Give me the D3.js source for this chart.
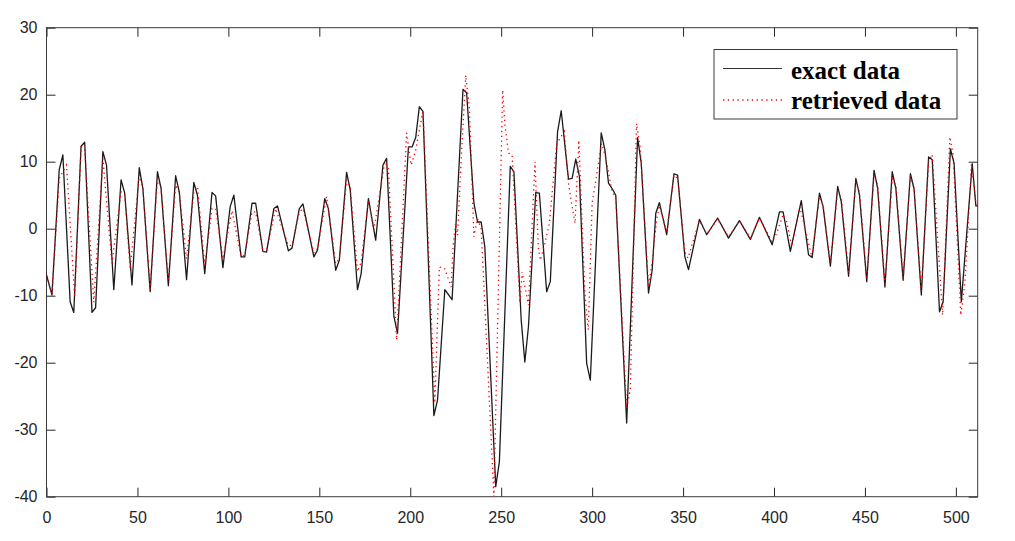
<!DOCTYPE html>
<meta charset="utf-8">
<style>
  body { margin: 0; background: #fff; }
  .tick text { font-family: "Liberation Sans", Arial, sans-serif; font-size: 16px; fill: #262626; }
  .tick line { stroke: #262626; }
</style>

<div id="chart"></div>

<!-- Load d3.js -->
<script src="https://d3js.org/d3.v7.min.js"></script>

<script>
  // exact data, vertices
  var exactX = [0, 3, 7, 9, 13, 15, 19, 21, 25, 27, 31, 33, 37, 41, 43, 47, 51, 53, 57, 61, 63, 67, 71, 73, 77, 81, 83, 87,
    91, 93, 97, 101, 103, 107, 109, 113, 115, 119, 121, 125, 127, 133, 135, 139, 141, 147, 149, 153, 155, 159, 161, 165, 167,
    171, 173, 177, 181, 185, 187, 191, 193, 199, 201, 203, 205, 207, 213, 215, 219, 223, 229, 231, 235, 237, 239, 241, 247, 249,
    255, 257, 261, 263, 265, 269, 271, 275, 277, 281, 283, 287, 289, 291, 293, 297, 299, 305, 307, 309, 311, 313, 319, 325, 327,
    331, 333, 335, 337, 341, 345, 347, 351, 353, 359, 363, 369, 375, 381, 387, 392, 399, 403, 405, 409, 415, 419, 421, 425, 427,
    431, 435, 437, 441, 445, 447, 451, 455, 457, 461, 465, 467, 471, 475, 477, 481, 485, 487, 491, 493, 497, 499, 503, 509, 511, 512];
  var exactY = [-6.9, -9.9, 8.8, 11.0, -10.9, -12.5, 12.3, 12.9, -12.5, -11.8, 11.5, 9.5, -9.1, 7.3, 5.3, -8.4, 9.1, 6.0, -9.4, 8.5, 6.0, -8.5, 7.9, 5.5, -7.6, 6.9, 5.0, -6.7,
    5.4, 4.9, -5.8, 3.3, 5.0, -4.2, -4.2, 3.8, 3.8, -3.4, -3.5, 3.0, 3.4, -3.3, -2.9, 3.0, 3.7, -4.2, -3.2, 4.5, 3.0, -6.2, -4.7, 8.4, 5.8,
    -9.1, -6.7, 4.5, -1.7, 9.5, 10.5, -13.1, -15.6, 12.2, 12.2, 13.6, 18.2, 17.5, -27.9, -25.6, -9.1, -10.6, 20.8, 20.3, 3.8, 1.0, 1.0, -2.7, -38.5, -34.8,
    9.3, 8.5, -13.6, -19.9, -14.6, 5.4, 5.3, -9.4, -7.9, 14.5, 17.6, 7.4, 7.5, 10.4, 7.8, -20.1, -22.6, 14.3, 11.8, 6.8, 6.0, 5.0, -29.0, 13.6, 9.8,
    -9.6, -6.2, 2.3, 3.9, -0.9, 8.2, 8.0, -4.2, -6.1, 1.4, -0.9, 1.6, -1.4, 1.2, -1.6, 1.7, -2.4, 2.5, 2.5, -3.4, 4.2, -3.9, -4.3, 5.3, 3.3,
    -5.6, 6.3, 4.0, -7.1, 7.5, 5.0, -7.9, 8.7, 6.0, -8.7, 8.5, 6.0, -7.7, 8.2, 6.0, -9.9, 10.7, 10.3, -12.4, -10.9, 11.9, 9.8, -10.9, 9.7, 3.4, 3.4];

  // retrieved data
  var retrX = [0, 3, 7, 11, 15.5, 19, 21, 26, 31, 36, 41, 43, 46, 51, 53, 57, 61, 63, 67, 71, 73, 77, 81, 83, 87,
    91, 93, 97, 102, 107, 109, 113, 115, 119, 121, 126, 133, 135, 139, 141, 147, 149, 154, 159, 161, 165, 167,
    171, 173, 177, 180, 183, 186, 188, 192.5, 198, 200.5, 203, 207, 213.5, 216, 219, 222.5, 223.5, 225, 226, 228, 230.5, 232.5, 235, 237, 239, 246,
    250.8, 252, 254, 256, 260.3, 261.5, 265, 268.6, 270.4, 271.5, 274, 276.5, 280.5, 284.7, 287, 288.7, 290.6, 292.7, 296, 297.9, 300, 305.2, 307.4, 311, 313,
    319, 321, 324.4, 326.5, 331, 333, 335.5, 337, 341, 345, 347, 351, 352.7, 359, 363, 369, 375, 381, 387, 392, 399, 401.4, 405, 407, 409.7, 414.2, 420.8,
    425, 427, 431, 435, 437, 441, 445, 447, 451, 455, 457, 461, 465, 467, 471, 475, 477, 481, 485, 487, 492.7, 496.7, 498.5, 502.7, 505, 508.6, 511, 512];
  var retrY = [-7.0, -9.7, 7.5, 9.5, -10.2, 12.2, 12.0, -11.0, 10.5, -5.2, 5.5, 5.0, -6.0, 8.0, 6.0, -9.0, 7.5, 6.0, -7.8, 6.5, 5.5, -4.5, 5.5, 6.3, -5.5,
    3.0, 3.0, -4.5, 2.7, -4.2, -4.0, 2.5, 2.5, -3.5, -3.2, 3.0, -2.5, -2.5, 2.5, 3.0, -3.6, -3.0, 4.8, -5.2, -4.5, 7.3, 6.0,
    -6.4, -5.0, 4.3, -0.2, 4.8, 10.0, 9.0, -16.6, 14.3, 9.5, 11.7, 17.7, -26.0, -5.7, -6.0, -8.7, -2.7, 0.8, -1.0, 10.3, 22.9, 18.2, -1.2, 1.5, 0.0, -40,
    20.7, 15.7, 11.3, 11.0, -11.1, -6.5, -11.4, 10.0, -2.7, -4.7, -2.2, 0.8, 12.7, 14.5, 6.8, 3.8, 0.8, 13.2, -9.6, -15.1, 3.8, 12.7, 10.7, 5.5, 4.5,
    -26.8, -24.0, 15.7, 12.0, -8.7, -5.0, 1.4, 3.5, -0.5, 8.0, 7.5, -3.5, -4.4, 1.2, -0.8, 1.4, -1.2, 1.2, -1.4, 1.6, -2.0, -0.7, 2.1, 1.0, -2.7, 3.3, -4.2,
    4.8, 3.5, -5.2, 5.7, 4.5, -6.5, 7.0, 5.5, -7.5, 8.0, 6.5, -8.2, 7.5, 6.5, -7.3, 7.8, 6.0, -9.3, 10.0, 11.1, -12.9, 13.7, 11.0, -12.9, -8.0, 9.7, 3.8, 3.5];

  var xTicks = [0, 50, 100, 150, 200, 250, 300, 350, 400, 450, 500];
  var yTicks = [-40, -30, -20, -10, 0, 10, 20, 30];
  var seriesNames = ["exact data", "retrieved data"];

  var W = 1015, H = 541;
  var plotL = 46.5, plotR = 977.7, plotT = 27.7, plotB = 496.7;

  var svg = d3.select("#chart")
    .append("svg")
    .attr("width", W)
    .attr("height", H);

  // scales
  var x = d3.scaleLinear().domain([0, 512]).range([plotL, plotR]);
  var y = d3.scaleLinear().domain([-40, 30]).range([plotB, plotT]);

  // plain hyphen for negatives, as in the picture
  var fmt = function (d) { return String(d) };

  // clip the curves to the box
  svg.append("clipPath").attr("id", "clip")
    .append("rect")
    .attr("x", plotL).attr("y", plotT)
    .attr("width", plotR - plotL).attr("height", plotB - plotT);

  // axes, ticks pointing in like matlab
  var tl = 9;
  svg.append("g")
    .attr("transform", "translate(0," + plotB + ")")
    .call(d3.axisBottom(x).tickValues(xTicks).tickFormat(fmt).tickSizeInner(-tl).tickSizeOuter(0).tickPadding(15))
    .call(function (g) { g.select(".domain").remove(); });
  svg.append("g")
    .attr("transform", "translate(0," + plotT + ")")
    .call(d3.axisTop(x).tickValues(xTicks).tickSizeInner(-tl).tickSizeOuter(0).tickFormat(""))
    .call(function (g) { g.select(".domain").remove(); });
  svg.append("g")
    .attr("transform", "translate(" + plotL + ",0)")
    .call(d3.axisLeft(y).tickValues(yTicks).tickFormat(fmt).tickSizeInner(-tl).tickSizeOuter(0).tickPadding(9))
    .call(function (g) { g.select(".domain").remove(); });
  svg.append("g")
    .attr("transform", "translate(" + plotR + ",0)")
    .call(d3.axisRight(y).tickValues(yTicks).tickSizeInner(-tl).tickSizeOuter(0).tickFormat(""))
    .call(function (g) { g.select(".domain").remove(); });

  // box
  svg.append("rect")
    .attr("x", plotL).attr("y", plotT)
    .attr("width", plotR - plotL).attr("height", plotB - plotT)
    .attr("fill", "none").attr("stroke", "#3a3a3a").attr("stroke-width", 1);

  var line = d3.line()
    .x(function (d) { return x(d[0]) })
    .y(function (d) { return y(d[1]) });

  var exact = d3.zip(exactX, exactY);
  var retr = d3.zip(retrX, retrY);

  svg.append("path")
    .datum(exact)
    .attr("clip-path", "url(#clip)")
    .attr("d", line)
    .attr("fill", "none")
    .attr("stroke", "#1a1a1a")
    .attr("stroke-width", 1.3)
    .attr("stroke-linejoin", "round");

  svg.append("path")
    .datum(retr)
    .attr("clip-path", "url(#clip)")
    .attr("d", line)
    .attr("fill", "none")
    .attr("stroke", "#ff0000")
    .attr("stroke-width", 1.3)
    .attr("stroke-dasharray", "1.3,3.5");

  // legend
  var lg = svg.append("g");
  lg.append("rect")
    .attr("x", 714).attr("y", 49.5)
    .attr("width", 243).attr("height", 69.5)
    .attr("fill", "#fff").attr("stroke", "#3a3a3a").attr("stroke-width", 1);
  lg.append("line")
    .attr("x1", 723).attr("x2", 782).attr("y1", 68.5).attr("y2", 68.5)
    .attr("stroke", "#333").attr("stroke-width", 1.2);
  lg.append("line")
    .attr("x1", 723).attr("x2", 782).attr("y1", 100).attr("y2", 100)
    .attr("stroke", "#ff0000").attr("stroke-width", 1.3).attr("stroke-dasharray", "1.3,3.5");
  lg.selectAll("text")
    .data(seriesNames)
    .enter()
    .append("text")
    .attr("x", 791)
    .attr("y", function (d, i) { return i == 0 ? 78.5 : 108.5 })
    .attr("font-family", "'Liberation Serif', 'Times New Roman', serif")
    .attr("font-weight", "bold")
    .attr("font-size", "25px")
    .attr("fill", "#000")
    .text(function (d) { return d });
</script>
